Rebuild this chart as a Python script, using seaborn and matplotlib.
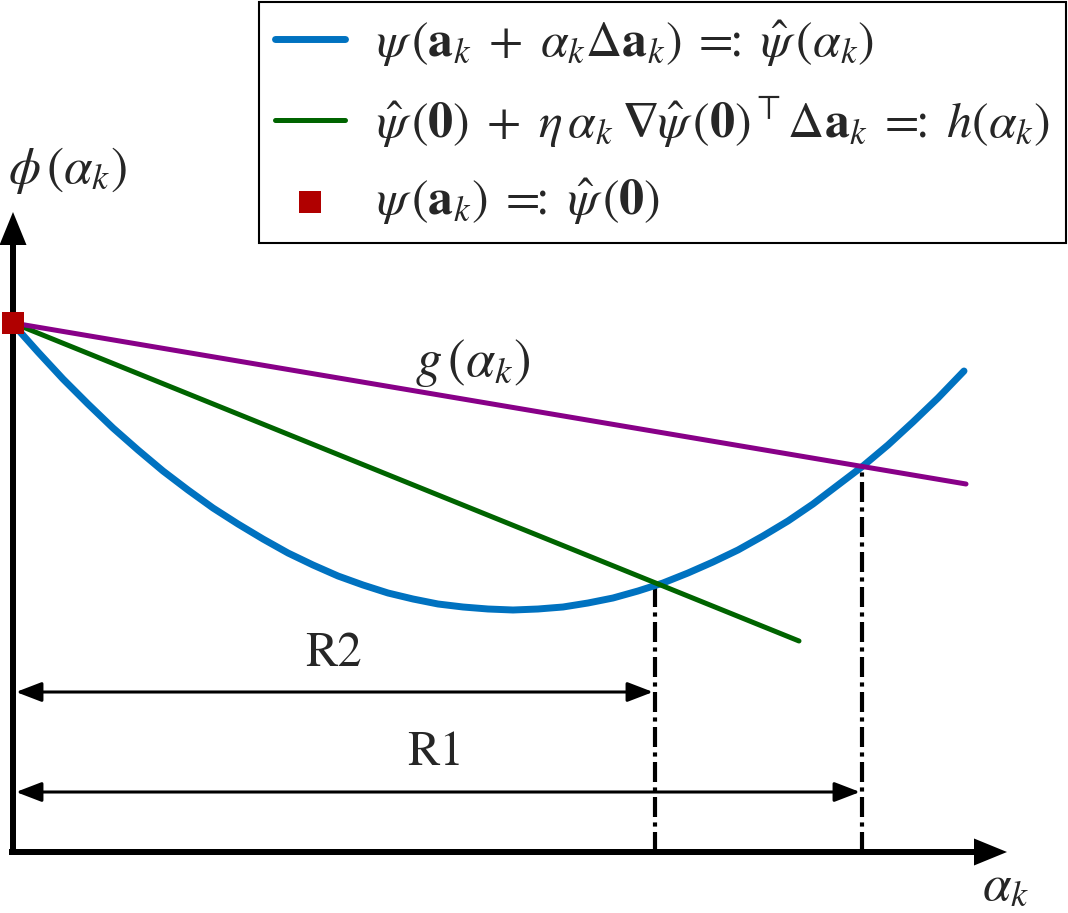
import numpy as np
import matplotlib
matplotlib.use("Agg")
import matplotlib.pyplot as plt
import seaborn as sns

# ---- data (x = alpha_k, y = phi) ----
blue_alpha = [0, 0.25, 0.5, 0.75, 1.0, 1.25, 1.5, 1.75, 2.0, 2.25, 2.5, 2.75, 3.0, 3.25,
              3.5, 3.75, 4.0, 4.25, 4.5, 4.75, 5.0, 5.25, 5.5, 5.75, 6.0, 6.25, 6.5,
              6.75, 7.0, 7.25, 7.5, 7.75, 8.0, 8.25, 8.5, 8.75, 9.0, 9.25, 9.51]
blue_phi = [5.28, 5.00, 4.73, 4.48, 4.24, 4.02, 3.81, 3.62, 3.44, 3.28, 3.13, 2.99, 2.87, 2.76,
            2.67, 2.59, 2.53, 2.48, 2.45, 2.43, 2.42, 2.43, 2.45, 2.49, 2.54, 2.61, 2.69,
            2.79, 2.90, 3.02, 3.16, 3.31, 3.48, 3.67, 3.86, 4.07, 4.30, 4.54, 4.81]
green_alpha = [0.0, 7.86]
green_phi = [5.29, 2.11]
purple_alpha = [0.0, 9.53]
purple_phi = [5.29, 3.68]
start_alpha = [0.0]
start_phi = [5.29]
R2_alpha, R2_phi, R2_level = 6.42, 2.66, 1.60
R1_alpha, R1_phi, R1_level = 8.49, 3.87, 0.60

legend_labels = [
    r'$\psi\,(\mathbf{a}_k \;+\; \alpha_k \Delta\mathbf{a}_k)\; =\!\!\!:\; \hat{\psi}\,(\alpha_k)$',
    r'$\hat{\psi}\,(\mathbf{0}) \;+\; \eta\,\alpha_k\;\mathbf{\nabla}\hat{\psi}\,(\mathbf{0})^\top \Delta\mathbf{a}_k\; =\!\!\!:\; h(\alpha_k)$',
    r'$\psi\,(\mathbf{a}_k)\; =\!\!\!:\; \hat{\psi}\,(\mathbf{0})$',
]

BLUE = '#0072C0'
GREEN = '#006400'
PURPLE = '#880088'
RED = '#B00000'

sns.set_style("white")
plt.rcParams['font.family'] = ['STIXGeneral', 'DejaVu Serif']
plt.rcParams['mathtext.fontset'] = 'stix'

fig = plt.figure(figsize=(10.68, 9.13), dpi=100)
ax = fig.add_axes([0, 0, 1, 1])
ax.set_xlim(-0.13, 10.55)
ax.set_ylim(-0.61, 8.52)
ax.axis('off')

# dash-dot guide lines
ls_dd = (0, (4.8, 1.3, 1.0, 1.3))
ax.plot([R2_alpha, R2_alpha], [0, R2_phi], color='black', lw=3, linestyle=ls_dd, zorder=1)
ax.plot([R1_alpha, R1_alpha], [0, R1_phi], color='black', lw=3, linestyle=ls_dd, zorder=1)

# curves
sns.lineplot(x=blue_alpha, y=blue_phi, ax=ax, color=BLUE, lw=5, label=legend_labels[0],
             sort=False, zorder=2)
sns.lineplot(x=green_alpha, y=green_phi, ax=ax, color=GREEN, lw=3.6, label=legend_labels[1],
             sort=False, zorder=3)
sns.lineplot(x=purple_alpha, y=purple_phi, ax=ax, color=PURPLE, lw=3.6, sort=False, zorder=3)
sns.scatterplot(x=start_alpha, y=start_phi, ax=ax, marker='s', s=250, color=RED,
                edgecolor='none', label=legend_labels[2], zorder=6)

# axes arrows
ax.arrow(0, -0.03, 0, 6.43, width=0.06, head_width=0.27, head_length=0.33,
         length_includes_head=True, color='black', lw=0, zorder=4)
ax.arrow(-0.04, 0, 9.98, 0, width=0.06, head_width=0.27, head_length=0.33,
         length_includes_head=True, color='black', lw=0, zorder=4)

# range arrows
for xe, lvl in [(R2_alpha, R2_level), (R1_alpha, R1_level)]:
    ax.annotate('', xy=(xe - 0.02, lvl), xytext=(0.03, lvl),
                arrowprops=dict(arrowstyle='<|-|>,head_length=0.78,head_width=0.3',
                                mutation_scale=20, lw=2.2, color='black',
                                shrinkA=0, shrinkB=0), zorder=4)

ax.text(3.20, 1.97, 'R2', fontsize=35, ha='center', va='center')
ax.text(4.23, 0.98, 'R1', fontsize=35, ha='center', va='center')
ax.text(4.60, 4.89, r'$g\,(\alpha_k)$', fontsize=38, ha='center', va='center')
ax.text(0.54, 6.82, r'$\phi\,(\alpha_k)$', fontsize=37, ha='center', va='center')
ax.text(9.92, -0.36, r'$\alpha_k$', fontsize=37, ha='center', va='center')

handles, labels = ax.get_legend_handles_labels()
leg = ax.legend(handles, labels, loc='upper right', bbox_to_anchor=(0.998, 0.998),
                bbox_transform=fig.transFigure, borderaxespad=0, fontsize=36,
                frameon=True, fancybox=False, edgecolor='black', framealpha=1,
                handlelength=1.40, handletextpad=0.62, labelspacing=0.52,
                borderpad=0.32, markerscale=1.0)
leg.get_frame().set_linewidth(1.5)

fig.savefig('out.png', dpi=100)
